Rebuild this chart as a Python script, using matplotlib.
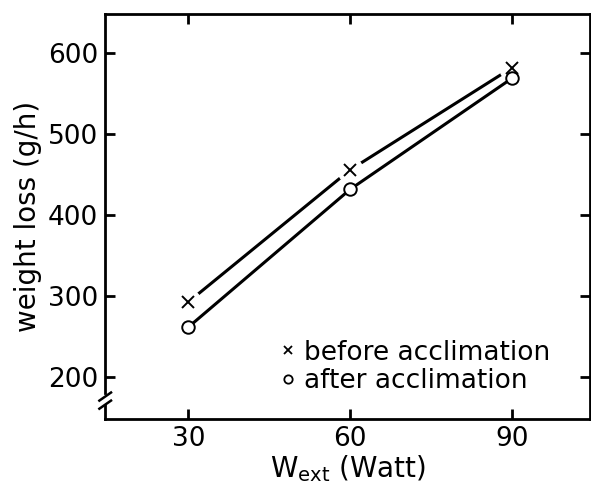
import matplotlib.pyplot as plt
from matplotlib.lines import Line2D

# dati
watt = [30, 60, 90]
prima = [293, 456, 582]   # before acclimation
dopo = [262, 432, 569]    # after acclimation

plt.rcParams['font.family'] = 'DejaVu Sans'

fig = plt.figure(figsize=(5.91, 4.87), dpi=100)
ax = fig.add_axes([0.178, 0.140, 0.820, 0.831])

# linea "before" con piccole interruzioni intorno ai marker
ax.plot(watt, prima, color='black', lw=2.2, solid_capstyle='butt', zorder=2)
ax.plot(watt, prima, ls='none', marker='o', ms=18, mfc='white', mec='white', zorder=3)
ax.plot(watt, prima, ls='none', marker='x', ms=8, mew=1.4, color='black', zorder=4)

# linea "after"
ax.plot(watt, dopo, color='black', lw=2.2, zorder=5)
ax.plot(watt, dopo, ls='none', marker='o', ms=9, mfc='white', mec='black', mew=1.4, zorder=6)

ax.set_xlim(14.6, 104.4)
ax.set_ylim(149, 648)
ax.set_xticks([30, 60, 90])
ax.set_yticks([200, 300, 400, 500, 600])
ax.tick_params(direction='in', length=7, width=2, labelsize=19, top=True, right=True, pad=5)

for s in ax.spines.values():
    s.set_linewidth(2)
ax.spines['left'].set_bounds(181, 648)

# interruzione dell'asse y
ax.plot([0, 0], [0, 0.035], transform=ax.transAxes, color='black', lw=2, clip_on=False)
ax.plot([-0.012, 0.012], [0.045, 0.065], transform=ax.transAxes, color='black', lw=1.8, clip_on=False)
ax.plot([-0.012, 0.012], [0.025, 0.045], transform=ax.transAxes, color='black', lw=1.8, clip_on=False)

ax.set_ylabel('weight loss (g/h)', fontsize=20, labelpad=4)
ax.set_xlabel(r'W$_{\mathregular{ext}}$ (Watt)', fontsize=20, labelpad=1)

maniglie = [Line2D([], [], ls='none', marker='x', ms=6, mew=1.3, color='black'),
            Line2D([], [], ls='none', marker='o', ms=6, mfc='white', mec='black', mew=1.3)]
ax.legend(maniglie, ['before acclimation', 'after acclimation'], loc='lower right',
          bbox_to_anchor=(0.945, 0.028), frameon=False, fontsize=19, handlelength=0.5,
          handletextpad=0.35, labelspacing=0.1, borderpad=0)

fig.savefig('out.png', dpi=100)
